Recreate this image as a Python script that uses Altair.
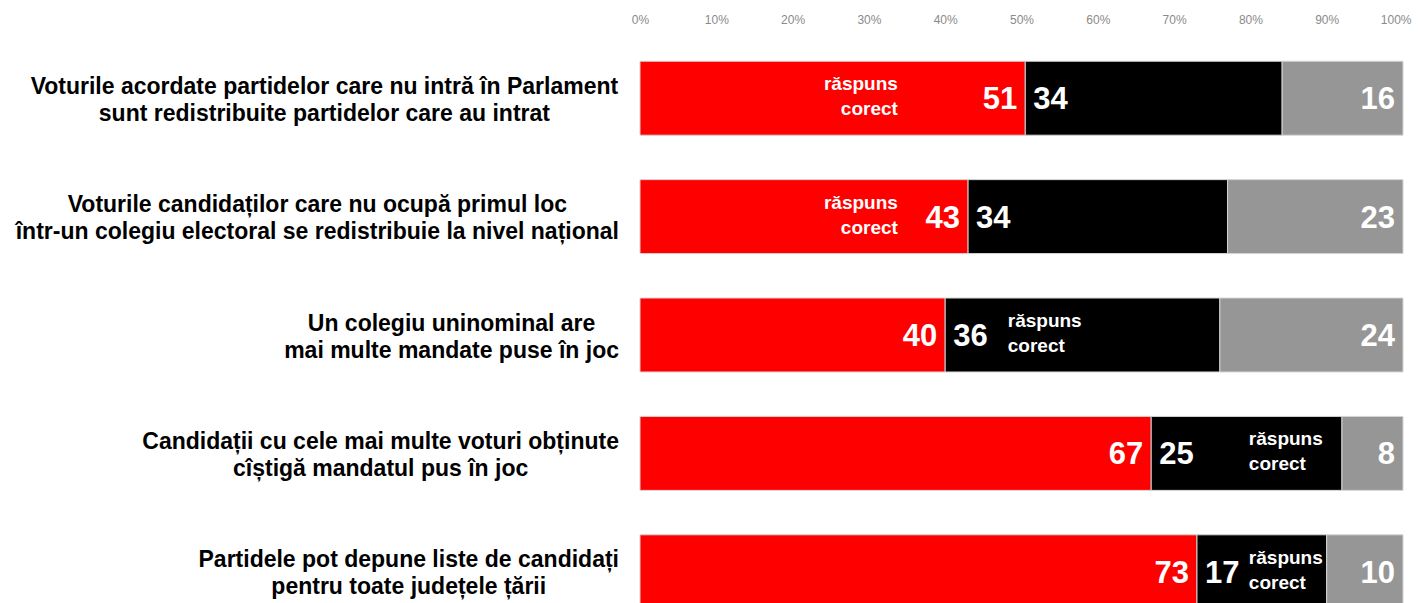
import altair as alt
import pandas as pd

# ---------------- data ----------------
questions = [
    "Voturile acordate partidelor care nu intră în Parlament\nsunt redistribuite partidelor care au intrat",
    "Voturile candidaților care nu ocupă primul loc\nîntr-un colegiu electoral se redistribuie la nivel național",
    "Un colegiu uninominal are\nmai multe mandate puse în joc",
    "Candidații cu cele mai multe voturi obținute\ncîștigă mandatul pus în joc",
    "Partidele pot depune liste de candidați\npentru toate județele țării",
]
series = ["Adevărat", "Fals", "Nu știu"]
adevarat = [51, 43, 40, 67, 73]
fals = [34, 34, 36, 25, 17]
nu_stiu = [16, 23, 24, 8, 10]

# "răspuns corect" annotation: anchor (share of bar) and side
note_text = "răspuns\ncorect"
note_anchor = [0.338, 0.338, 0.482, 0.798, 0.798]
note_side = ["right", "right", "left", "left", "left"]

tick_values = [i / 10 for i in range(11)]

# ---------------- styling ----------------
FONT = "Liberation Sans"
COLORS = ["#ff0000", "#000000", "#969696"]
PLOT_W = 763
BAND_RANGE = 592     # full extent of the five bands (last one runs off the page)
PLOT_H = 564         # visible height of the plot area
LABEL_FS = 23

# Arial/Liberation Sans Bold advance widths (per 1000 em)
W = {" ": 278, "a": 556, "b": 611, "c": 556, "d": 611, "e": 556, "f": 333, "g": 611,
     "h": 611, "i": 278, "j": 278, "k": 556, "l": 278, "m": 889, "n": 611, "o": 611,
     "p": 611, "q": 611, "r": 389, "s": 556, "t": 333, "u": 611, "v": 556, "w": 778,
     "x": 556, "y": 556, "z": 500, "-": 333, "ă": 556, "â": 556, "î": 278, "ș": 556,
     "ț": 333, "V": 667, "U": 722, "C": 722, "P": 667}


def text_width(s, fs):
    return sum(W.get(ch, 611) for ch in s) * fs / 1000.0


# ---------------- tables ----------------
rows = []
for i, q in enumerate(questions):
    for k, (name, vals) in enumerate(zip(series, [adevarat, fals, nu_stiu])):
        rows.append({"qid": f"Q{i+1}", "series": name, "order": k, "value": vals[i]})
df = pd.DataFrame(rows)

qrows = []
for i, q in enumerate(questions):
    wmax = max(text_width(line, LABEL_FS) for line in q.split("\n"))
    center_px = -21 - wmax / 2.0
    qrows.append({"qid": f"Q{i+1}", "label": q, "lx": center_px / PLOT_W})
qdf = pd.DataFrame(qrows)

ndf = pd.DataFrame({
    "qid": [f"Q{i+1}" for i in range(len(questions))],
    "nx": note_anchor,
    "side": note_side,
    "note": [note_text] * len(questions),
})

# ---------------- encodings ----------------
xscale = alt.Scale(domain=[0, 1], nice=False, zero=False)
xaxis = alt.Axis(orient="top", values=tick_values, format="%", title=None,
                 ticks=False, tickSize=0, domain=False, grid=False,
                 labelFlush=False, labelOverlap=False, labelBound=False,
                 labelAlign=alt.expr("datum.value >= 1 ? 'right' : 'center'"),
                 labelOffset=alt.expr("datum.value >= 1 ? 8 : 0"),
                 labelColor="#8a8a8a", labelFont=FONT, labelFontSize=12,
                 labelPadding=13)
Y = alt.Y("qid:N", axis=None, sort="ascending",
          scale=alt.Scale(range=[0, BAND_RANGE], paddingInner=0.3755, paddingOuter=0.1878))

base = alt.Chart(df).transform_stack(
    stack="value", groupby=["qid"], as_=["x0", "x1"], offset="normalize",
    sort=[alt.SortField("order", order="ascending")],
)

bars = base.mark_bar(stroke="#d4d4d4", strokeWidth=1).encode(
    y=Y,
    x=alt.X("x0:Q", scale=xscale, axis=xaxis),
    x2="x1:Q",
    color=alt.Color("series:N", scale=alt.Scale(domain=series, range=COLORS), legend=None),
)

num_style = dict(font=FONT, fontSize=31, fontWeight="bold", color="white", baseline="middle")

num_right = base.transform_filter(alt.datum.series != "Fals").mark_text(
    align="right", dx=-8, dy=2, **num_style
).encode(y=Y, x=alt.X("x1:Q", scale=xscale, axis=xaxis), text="value:Q")

num_left = base.transform_filter(alt.datum.series == "Fals").mark_text(
    align="left", dx=8, dy=2, **num_style
).encode(y=Y, x=alt.X("x0:Q", scale=xscale, axis=xaxis), text="value:Q")

qlabels = alt.Chart(qdf).mark_text(
    align="center", baseline="middle", lineBreak="\n", font=FONT,
    fontSize=LABEL_FS, fontWeight="bold", lineHeight=27, color="black", dy=-11.5
).encode(y=Y, x=alt.X("lx:Q", scale=xscale, axis=xaxis), text="label:N")

note_style = dict(baseline="middle", lineBreak="\n", font=FONT, fontSize=19,
                  fontWeight="bold", lineHeight=25, color="white", dy=-14)

notes_r = alt.Chart(ndf).transform_filter(alt.datum.side == "right").mark_text(
    align="right", **note_style
).encode(y=Y, x=alt.X("nx:Q", scale=xscale, axis=xaxis), text="note:N")

notes_l = alt.Chart(ndf).transform_filter(alt.datum.side == "left").mark_text(
    align="left", **note_style
).encode(y=Y, x=alt.X("nx:Q", scale=xscale, axis=xaxis), text="note:N")

chart = alt.layer(bars, num_right, num_left, qlabels, notes_r, notes_l).properties(
    width=PLOT_W,
    height=PLOT_H,
    autosize=alt.AutoSizeParams(type="none"),
    padding={"left": 632, "top": 31, "right": 9, "bottom": 0},
).configure_view(stroke=None)

chart.save("out.html", embed_options={"renderer": "svg", "actions": False})
